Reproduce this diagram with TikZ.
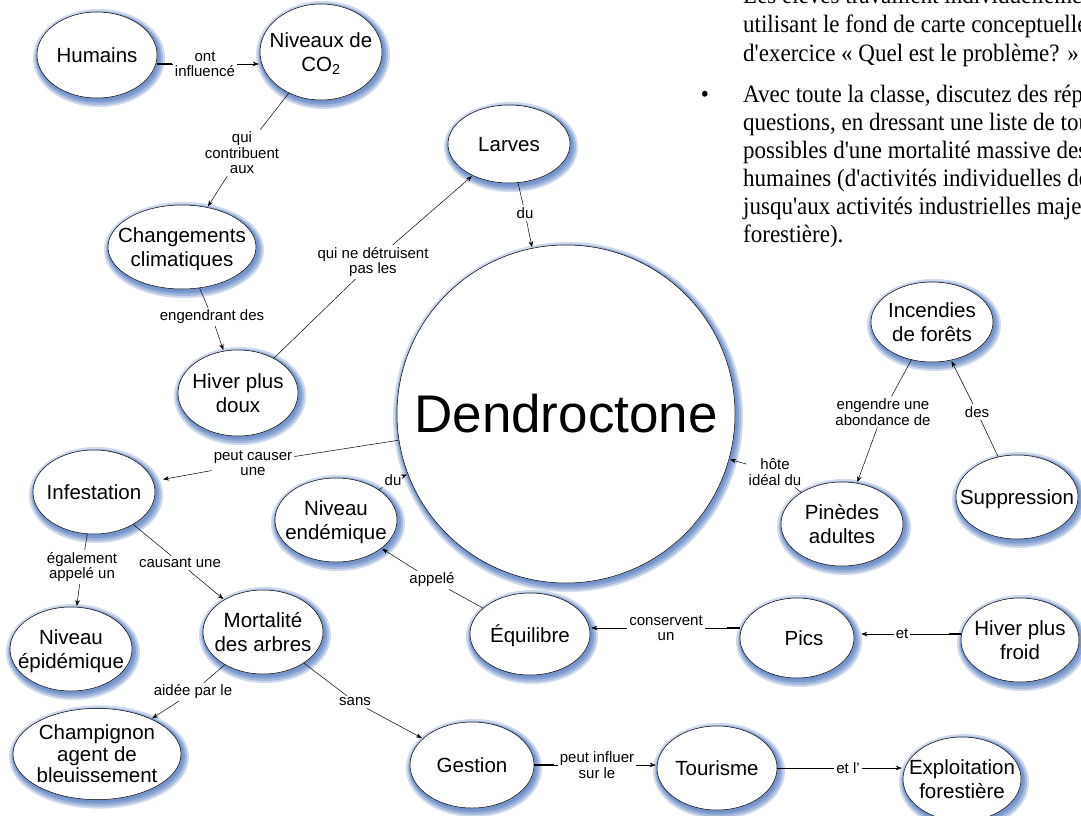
\documentclass[tikz,border=0pt]{standalone}
\usepackage{fontspec}
\setmainfont{Liberation Sans}
\newfontfamily\serifblock[FakeStretch=0.92]{Liberation Serif}
\usetikzlibrary{shapes.geometric,arrows.meta}
\definecolor{glowc}{RGB}{80,120,190}
\newcommand\ctext[1]{\makebox[0pt]{\raisebox{-3pt}[\height][\depth]{\begin{tabular}{@{}c@{}}#1\end{tabular}}}}
\tikzset{
  glow/.style={
    preaction={draw=glowc, line width=12pt, draw opacity=0.28, transform canvas={xshift=2pt,yshift=-3pt}},
    preaction={draw=glowc, line width=8pt, draw opacity=0.32, transform canvas={xshift=2pt,yshift=-3pt}},
    preaction={draw=glowc, line width=5pt, draw opacity=0.38, transform canvas={xshift=1.5pt,yshift=-2.2pt}},
    preaction={draw=glowc, line width=2.5pt, draw opacity=0.3, transform canvas={xshift=1pt,yshift=-1.5pt}}},
  concept/.style={ellipse, draw=black, line width=0.5pt, fill=white, glow, inner sep=0pt,
    font=\fontsize{20.5}{24}\selectfont},
  lbl/.style={font=\fontsize{15}{15.5}\selectfont, align=center, inner sep=2pt},
  conn/.style={draw=black, line width=0.5pt},
  arr/.style={conn, -{Stealth[length=6pt,width=4.5pt]}, shorten >=1pt},
  stubline/.style={line width=2pt},
  txtline/.style={font=\serifblock\fontsize{25}{28}\selectfont, anchor=base west, inner sep=0pt}
}
\begin{document}
\begin{tikzpicture}[x=1pt,y=-1pt]
\useasboundingbox (0,0) rectangle (1081,816);
\clip (0,0) rectangle (1081,816);
\fill[white] (0,0) rectangle (1081,816);

% text block
\node[txtline] (t1) at (743,4) {Les élèves travaillent individuellement en};
\node[txtline] (t2) at (743,33) {utilisant le fond de carte conceptuelle};
\node[txtline] (t3) at (743,62) {d'exercice « Quel est le problème? »};
\node[txtline, anchor=base] (bul) at (705,102) {•};
\node[txtline] (t4) at (743,102) {Avec toute la classe, discutez des réponses};
\node[txtline] (t5) at (743,130) {questions, en dressant une liste de toutes};
\node[txtline] (t6) at (743,158) {possibles d'une mortalité massive des};
\node[txtline] (t7) at (743,186) {humaines (d'activités individuelles de};
\node[txtline] (t8) at (743,214) {jusqu'aux activités industrielles majeures};
\node[txtline] (t9) at (743,242) {forestière).};

% concepts
\node[concept, minimum width=120pt, minimum height=86pt] (hum) at (97,55) {\ctext{Humains}};
\node[concept, minimum width=122pt, minimum height=96pt] (co2) at (321,52) {\ctext{Niveaux de\\CO\textsubscript{2}}};
\node[concept, minimum width=122pt, minimum height=78pt] (larves) at (509,144) {\ctext{Larves}};
\node[concept, minimum width=148pt, minimum height=84pt] (chg) at (182,247) {\ctext{Changements\\climatiques}};
\node[concept, minimum width=120pt, minimum height=86pt] (hpd) at (238,393) {\ctext{Hiver plus\\doux}};
\node[circle, draw=black, line width=0.5pt, fill=white, glow, inner sep=0pt, minimum size=338pt,
      font=\fontsize{53}{60}\selectfont] (dend) at (566,414) {\makebox[0pt]{Dendroctone}};
\node[concept, minimum width=122pt, minimum height=84pt] (inf) at (94,492) {\ctext{Infestation}};
\node[concept, minimum width=122pt, minimum height=84pt] (endem) at (336,520) {\ctext{Niveau\\endémique}};
\node[concept, minimum width=122pt, minimum height=84pt] (epid) at (71,649) {\ctext{Niveau\\épidémique}};
\node[concept, minimum width=120pt, minimum height=84pt] (mort) at (263,632) {\ctext{Mortalité\\des arbres}};
\node[concept, minimum width=168pt, minimum height=88pt, font=\fontsize{20.5}{21.5}\selectfont] (champ) at (97,754) {\ctext{Champignon\\agent de\\bleuissement}};
\node[concept, minimum width=124pt, minimum height=86pt] (gest) at (472,765) {\ctext{Gestion}};
\node[concept, minimum width=120pt, minimum height=84pt] (tour) at (717,768) {\ctext{Tourisme}};
\node[concept, minimum width=118pt, minimum height=84pt] (expl) at (962,779) {\ctext{Exploitation\\forestière}};
\node[concept, minimum width=120pt, minimum height=82pt] (equi) at (530,634) {\ctext{Équilibre}};
\node[concept, minimum width=114pt, minimum height=80pt] (pics) at (797,638) {\ctext{\hspace*{14pt}Pics}};
\node[concept, minimum width=118pt, minimum height=84pt] (hpf) at (1020,640) {\ctext{Hiver plus\\froid}};
\node[concept, minimum width=122pt, minimum height=80pt] (inc) at (932,322) {\ctext{Incendies\\de forêts}};
\node[concept, minimum width=122pt, minimum height=84pt] (supp) at (1017,497) {\ctext{Suppression}};
\node[concept, minimum width=122pt, minimum height=84pt] (pin) at (842,524) {\ctext{Pinèdes\\adultes}};

% link labels
\node[lbl] (l1) at (205,64) {ont\\influencé};
\node[lbl] (l2) at (242,153) {qui\\contribuent\\aux};
\node[lbl] (l3) at (212,317) {engendrant des};
\node[lbl] (l4) at (373,262) {qui ne détruisent\\pas les};
\node[lbl] (l5) at (525,213) {du};
\node[lbl] (l6) at (253,463) {peut causer\\une};
\node[lbl] (l7) at (393,480) {du};
\node[lbl] (l8) at (432,580) {appelé};
\node[lbl] (l9) at (82,567) {également\\appelé un};
\node[lbl] (l10) at (180,563) {causant une};
\node[lbl] (l11) at (193,692) {aidée par le};
\node[lbl] (l12) at (355,702) {sans};
\node[lbl] (l13) at (597,765) {peut influer\\sur le};
\node[lbl] (l14) at (848,768) {et l’};
\node[lbl] (l15) at (666,628) {conservent\\un};
\node[lbl] (l16) at (902,634) {et};
\node[lbl] (l17) at (883,412) {engendre une\\abondance de};
\node[lbl] (l18) at (977,412) {des};
\node[lbl] (l19) at (775,472) {hôte\\idéal du};

% connectors
\draw[conn] (l1 -| hum.east) -- (l1);
\draw[stubline] (l1 -| hum.east) -- ++(15,0);
\draw[arr] (l1) -- (l1 -| co2.west);
\draw[conn] (co2) -- (l2);
\draw[arr] (l2) -- (chg);
\draw[conn] (chg) -- (l3);
\draw[arr] (l3) -- (hpd);
\draw[conn] (hpd) -- (l4);
\draw[arr] (l4) -- (larves);
\draw[conn] (larves) -- (l5);
\draw[arr] (l5) -- (dend);
\draw[conn] (dend) -- (l6);
\draw[arr, shorten >=10pt] (l6) -- (inf);
\draw[conn] (endem) -- (l7);
\draw[arr] (l7) -- (dend);
\draw[conn] (equi) -- (l8);
\draw[arr] (l8) -- (endem);
\draw[conn] (inf) -- (l9);
\draw[arr] (l9) -- (epid);
\draw[conn] (inf) -- (l10);
\draw[arr] (l10) -- (mort);
\draw[conn] (mort) -- (l11);
\draw[arr] (l11) -- (champ);
\draw[conn] (mort) -- (l12);
\draw[arr] (l12) -- (gest);
\draw[conn] (gest) -- (l13);
\draw[stubline] (gest.east) -- ++(20,0);
\draw[arr] (l13) -- (l13 -| tour.west);
\draw[conn] (l14 -| tour.east) -- (l14);
\draw[arr] (l14) -- (l14 -| expl.west);
\draw[conn] (l15 -| pics.west) -- (l15);
\draw[stubline] (l15 -| pics.west) -- ++(-13,0);
\draw[arr] (l15) -- (l15 -| equi.east);
\draw[conn] (l16 -| hpf.west) -- (l16);
\draw[stubline] (l16 -| hpf.west) -- ++(-12,0);
\draw[arr, shorten >=7pt] (l16) -- (l16 -| pics.east);
\draw[conn] (inc) -- (l17);
\draw[arr] (l17) -- (pin);
\draw[conn] (supp) -- (l18);
\draw[arr] (l18) -- (inc);
\draw[conn] (pin) -- (l19);
\draw[arr] (l19) -- (dend);
\end{tikzpicture}
\end{document}
